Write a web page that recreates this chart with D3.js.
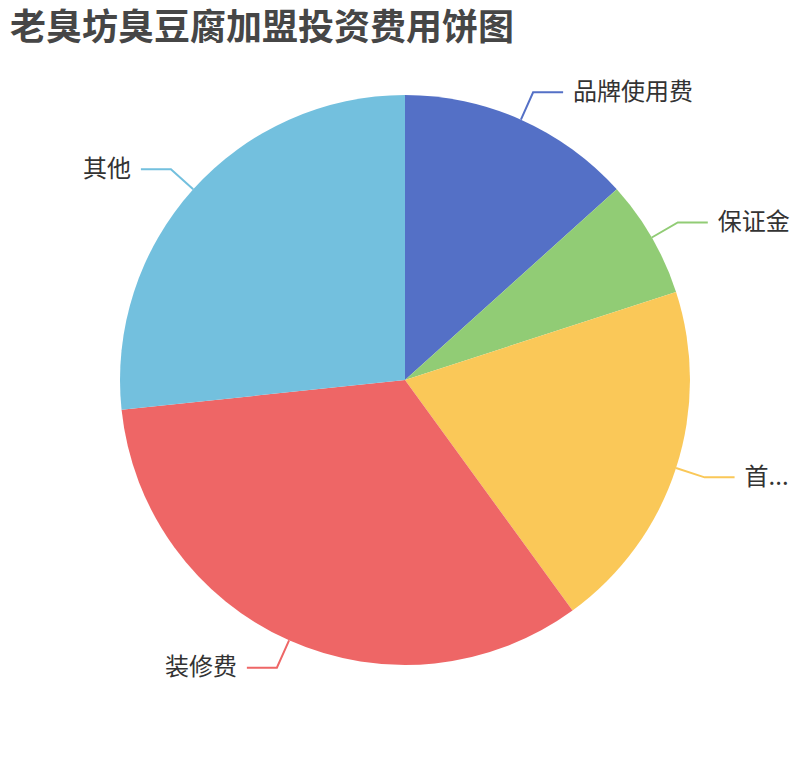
<!DOCTYPE html>
<html>
<head>
<meta charset="utf-8">
<script src="https://cdn.jsdelivr.net/npm/d3@7"></script>
<style>
  html, body { margin: 0; padding: 0; background: #fff; }
  svg { display: block; font-family: "Noto Sans CJK SC", "Noto Sans", sans-serif; }
</style>
</head>
<body>
<div id="chart"></div>
<script>
const title = "老臭坊臭豆腐加盟投资费用饼图";
const categories = ["品牌使用费", "保证金", "首...", "装修费", "其他"];
const values = [2, 1, 3, 5, 4];
const colors = ["#5470c6", "#91cc75", "#fac858", "#ee6666", "#73c0de"];

function renderPie() {
  const width = 810;
  const height = 760;
  const cx = 405;
  const cy = 380;
  const radius = 285;
  const len1 = 30;
  const len2 = 30;

  const svg = d3.select("#chart")
    .append("svg")
    .attr("width", width)
    .attr("height", height);

  svg.append("text")
    .attr("x", 10)
    .attr("y", 40)
    .attr("font-size", 36)
    .attr("font-weight", "bold")
    .attr("fill", "#464646")
    .text(title);

  const rows = categories.map((name, i) => ({ name, value: values[i], color: colors[i] }));

  const pie = d3.pie().sort(null).value((d) => d.value);
  const arcs = pie(rows);
  const arc = d3.arc().innerRadius(0).outerRadius(radius);

  const g = svg.append("g").attr("transform", `translate(${cx},${cy})`);

  g.selectAll("path.slice")
    .data(arcs)
    .join("path")
    .attr("class", "slice")
    .attr("d", arc)
    .attr("fill", (d) => d.data.color);

  // label lines + text, echarts style
  const pointAt = (a, r) => [r * Math.sin(a), -r * Math.cos(a)];

  arcs.forEach((d) => {
    const mid = (d.startAngle + d.endAngle) / 2;
    const p0 = pointAt(mid, radius);
    const p1 = pointAt(mid, radius + len1);
    const right = Math.sin(mid) >= 0;
    const p2 = [p1[0] + (right ? len2 : -len2), p1[1]];

    g.append("polyline")
      .attr("points", [p0, p1, p2].map((p) => p.join(",")).join(" "))
      .attr("fill", "none")
      .attr("stroke", d.data.color)
      .attr("stroke-width", 2);

    g.append("text")
      .attr("x", p2[0] + (right ? 10 : -10))
      .attr("y", p2[1] - 3)
      .attr("text-anchor", right ? "start" : "end")
      .attr("dominant-baseline", "central")
      .attr("font-size", 24)
      .attr("fill", "#333")
      .text(d.data.name);
  });
}

renderPie();
</script>
</body>
</html>
